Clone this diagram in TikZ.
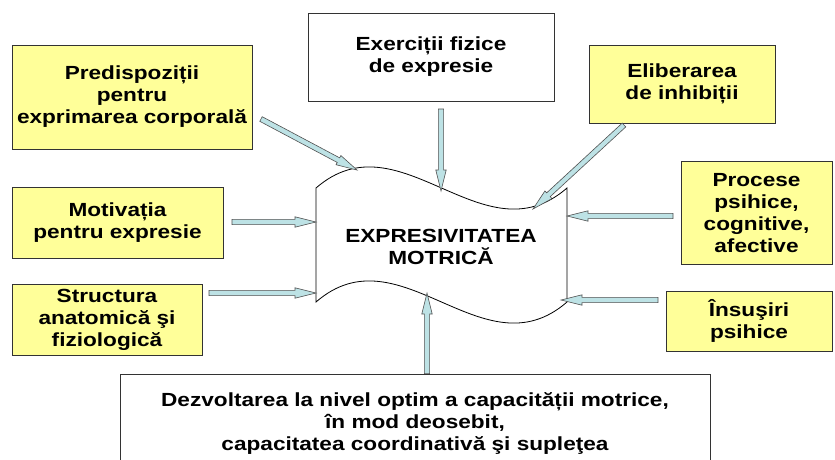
\documentclass[tikz,border=0pt]{standalone}
\usepackage{fontspec}
\newfontfamily\diagfont{Liberation Sans Bold}[FakeStretch=1.19]
\usetikzlibrary{calc}

\definecolor{boxyellow}{RGB}{255,255,153}
\definecolor{arrowfill}{RGB}{189,226,229}
\definecolor{arrowline}{RGB}{80,80,80}

\tikzset{
  factor/.style={draw=black!80, line width=0.9pt, fill=boxyellow, align=center, inner sep=0pt,
    font=\diagfont\fontsize{19}{22}\selectfont},
  plainbox/.style={factor, fill=white},
  wave/.style={draw=black, line width=0.8pt, fill=white},
  fatarrow/.style={draw=arrowline, fill=arrowfill, line width=0.6pt}
}

\newcommand{\feedarrow}[2]{%
  \coordinate (fa-h) at ($(#2)!21pt!(#1)$);
  \filldraw[fatarrow] ($(#1)!2.6pt!90:(#2)$) -- ($(fa-h)!2.6pt!-90:(#1)$) -- ($(fa-h)!5.2pt!-90:(#1)$)
    -- (#2) -- ($(fa-h)!5.2pt!90:(#1)$) -- ($(fa-h)!2.6pt!90:(#1)$) -- ($(#1)!2.6pt!-90:(#2)$) -- cycle;
}

\begin{document}
\begin{tikzpicture}[x=1pt,y=-1pt]
\useasboundingbox (0,0) rectangle (835,459);

\node[factor, minimum width=240pt, minimum height=104pt] (pred) at (132,97) {Predispoziții\\pentru\\exprimarea corporală};
\node[plainbox, minimum width=246pt, minimum height=88pt] (exer) at (431,57) {Exerciții fizice\\de expresie};
\node[factor, minimum width=186pt, minimum height=78pt] (elib) at (682,84) {Eliberarea\\de inhibiții};
\node[factor, minimum width=211pt, minimum height=71pt] (motiv) at (117.5,223) {Motivația\\pentru expresie};
\node[factor, minimum width=190pt, minimum height=71pt] (struct) at (107,320) {Structura\\anatomică şi\\fiziologică};
\node[factor, minimum width=151pt, minimum height=103pt] (proc) at (756.5,213) {Procese\\psihice,\\cognitive,\\afective};
\node[factor, minimum width=166pt, minimum height=60pt] (insus) at (749,321) {Însuşiri\\psihice};
\node[plainbox, minimum width=590pt, minimum height=98pt] (dezv) at (415,423) {Dezvoltarea la nivel optim a capacității motrice,\\în mod deosebit,\\capacitatea coordinativă şi supleţea};

\draw[wave] (316,188) .. controls (400,115) and (483,261) .. (567,188) -- (567,302)
  .. controls (483,375) and (400,229) .. (316,302) -- cycle;
\node[font=\diagfont\fontsize{19}{22}\selectfont, align=center] (expr) at (441,247) {EXPRESIVITATEA\\MOTRICĂ};

\coordinate (pred-out) at (261,119);
\coordinate (pred-in) at (357,170);
\coordinate (exer-out) at (441,109);
\coordinate (exer-in) at (441,191);
\coordinate (elib-out) at (624,125);
\coordinate (elib-in) at (533,209);
\coordinate (motiv-out) at (232,222);
\coordinate (motiv-in) at (316,222);
\coordinate (proc-out) at (673,216);
\coordinate (proc-in) at (567,216);
\coordinate (struct-out) at (209,293);
\coordinate (struct-in) at (316,293);
\coordinate (insus-out) at (658,300);
\coordinate (insus-in) at (561,300);
\coordinate (dezv-in) at (427,293);
\coordinate (dezv-out) at (dezv-in |- dezv.north);

\foreach \src in {pred,exer,elib,motiv,proc,struct,insus,dezv}
  \feedarrow{\src-out}{\src-in};
\end{tikzpicture}
\end{document}
